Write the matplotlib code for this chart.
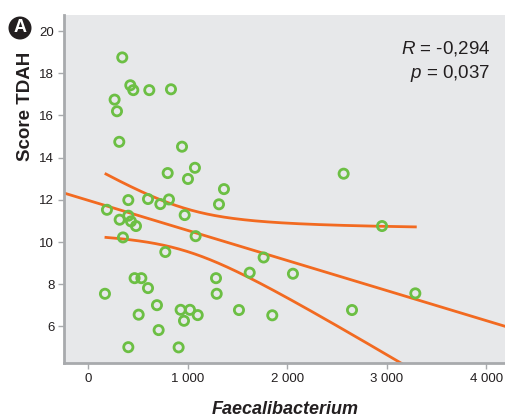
import numpy as np
import matplotlib
matplotlib.use("Agg")
import matplotlib.pyplot as plt
from matplotlib.ticker import FuncFormatter
from matplotlib.patches import Circle

# Data
faecali = [340, 421, 451, 612, 830, 263, 287, 310, 941, 797, 1071, 1001, 1363,
           401, 599, 810, 723, 1313, 186, 401, 314, 428, 478, 968, 1078, 347,
           773, 464, 532, 599, 166, 1283, 1290, 1622, 689, 505, 927, 1021, 1099,
           961, 1514, 706, 401, 907,
           2953, 1762, 2057, 3288, 1849, 2651, 2567]
score = [18.75, 17.43, 17.2, 17.2, 17.24, 16.75, 16.2, 14.75, 14.52, 13.27, 13.52, 12.99, 12.51,
         11.99, 12.04, 12.02, 11.8, 11.79, 11.53, 11.25, 11.06, 10.98, 10.76, 11.28, 10.28, 10.22,
         9.53, 8.29, 8.29, 7.82, 7.55, 8.29, 7.55, 8.55, 7.01, 6.56, 6.79, 6.79, 6.54,
         6.27, 6.78, 5.83, 5.02, 5.01,
         10.76, 9.27, 8.5, 7.57, 6.53, 6.78, 13.24]

xticks = [0, 1000, 2000, 3000, 4000]
yticks = [6, 8, 10, 12, 14, 16, 18, 20]
stat_text = ["$R$ = -0,294", "$p$ = 0,037"]

x = np.array(faecali, float)
y = np.array(score, float)
n = len(x)
slope, intercept = np.polyfit(x, y, 1)
resid = y - (intercept + slope * x)
s = np.sqrt(np.sum(resid**2) / (n - 2))
xbar = x.mean()
sxx = np.sum((x - xbar)**2)
tval = 2.01

plt.rcParams['font.family'] = ['Liberation Sans', 'DejaVu Sans']
plt.rcParams['mathtext.fontset'] = 'custom'
plt.rcParams['mathtext.it'] = 'Liberation Sans:italic'
plt.rcParams['mathtext.rm'] = 'Liberation Sans'

fig = plt.figure(figsize=(5.06, 4.18), dpi=100)
ax = fig.add_axes([64/506, 55/418, 442/506, 348/418])
ax.set_facecolor('#e7e8ea')

xmin, xmax = -246, 4200
ax.set_xlim(xmin, xmax)
ax.set_ylim(4.27, 20.76)

orange = '#f26a21'
green = '#6cbf44'

xl = np.linspace(xmin, xmax, 200)
ax.plot(xl, intercept + slope * xl, color=orange, lw=2, zorder=2)
xc = np.linspace(x.min() + 10, x.max(), 200)
half = tval * s * np.sqrt(1/n + (xc - xbar)**2 / sxx)
yc = intercept + slope * xc
ax.plot(xc, yc + half, color=orange, lw=2, zorder=2)
ax.plot(xc, yc - half, color=orange, lw=2, zorder=2)

ax.scatter(x, y, s=44, facecolors='none', edgecolors=green, linewidths=2, zorder=3)

for sp in ['top', 'right']:
    ax.spines[sp].set_visible(False)
for sp in ['left', 'bottom']:
    ax.spines[sp].set_color('#a8aaad')
    ax.spines[sp].set_linewidth(2)

ax.set_xticks(xticks)
ax.set_yticks(yticks)
ax.xaxis.set_major_formatter(FuncFormatter(lambda v, p: f"{int(v):,}".replace(",", " ")))
ax.tick_params(axis='both', colors='#a8aaad', labelcolor='#231f20', labelsize=9.5,
               length=4, width=1, pad=3)

ax.set_ylabel('Score TDAH', fontsize=13.5, fontweight='bold', color='#231f20')
ax.yaxis.set_label_coords(-0.068, 0.736)
ax.set_xlabel('Faecalibacterium', fontsize=13, fontweight='bold', fontstyle='italic',
              color='#231f20', labelpad=12)

ax.text(0.965, 0.904, stat_text[0], transform=ax.transAxes, ha='right', va='center',
        fontsize=13.5, color='#231f20')
ax.text(0.965, 0.832, stat_text[1], transform=ax.transAxes, ha='right', va='center',
        fontsize=13.5, color='#231f20')

# Panel badge
cx, cy = 20/506, 1 - 28/418
fig.patches.append(Circle((20, 418 - 28), 11.5, transform=None, fc='#231f20', ec='none',
                          figure=fig))
fig.text(cx, cy, 'A', ha='center', va='center', fontsize=13, fontweight='bold',
         color='white')

fig.savefig('out.png', dpi=100)
